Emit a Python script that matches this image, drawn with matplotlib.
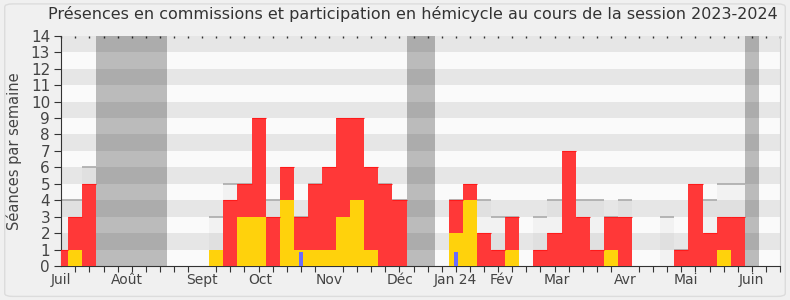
import matplotlib
matplotlib.use("Agg")
import matplotlib.pyplot as plt
from matplotlib.patches import FancyBboxPatch
import numpy as np

# ---- data (week index 0..51, July 2023 -> June 2024) ----
weeks = list(range(52))
hemicycle = [0, 1, 0, 0, 0, 0, 0, 0, 0, 0,
             0, 1, 0, 3, 3, 0, 4, 1, 1, 1,
             3, 4, 1, 0, 0, 0, 0, 0, 2, 4,
             0, 0, 1, 0, 0, 0, 0, 0, 0, 1,
             0, 0, 0, 0, 0, 0, 0, 1, 0, 0,
             0, 0]
commission = [1, 2, 5, 0, 0, 0, 0, 0, 0, 0,
              0, 0, 4, 2, 6, 3, 2, 2, 4, 5,
              6, 5, 5, 5, 4, 0, 0, 0, 2, 1,
              2, 1, 2, 0, 1, 2, 7, 3, 1, 2,
              3, 0, 0, 0, 1, 5, 2, 2, 3, 0,
              0, 0]
questions = [0] * 52
questions[17] = 0.85
questions[28] = 0.85
median = [4, 4, 6, 0, 0, 0, 0, 0, 0, 0,
          0, 3, 5, 5, 5, 4, 5, 3, 5, 5,
          5, 5, 5, 5, 4, 0, 0, 0, 4, 4,
          4, 3, 3, 0, 3, 4, 4, 4, 4, 3,
          4, 0, 0, 3, 1, 4, 4, 5, 5, 0,
          0, 0]
vac_start = [3, 25, 49]
vac_end = [7, 26, 49]
month_labels = ["Juil", "Août", "Sept", "Oct", "Nov", "Déc", "Jan 24",
                "Fév", "Mar", "Avr", "Mai", "Juin"]
month_pos = [0, 4.65, 10, 14.15, 19, 24.03, 27.93, 31.28, 35.18, 40, 44.31, 48.98]

title = "Présences en commissions et participation en hémicycle au cours de la session 2023-2024"
ylabel = "Séances par semaine"

# ---- figure ----
fig = plt.figure(figsize=(7.9, 3.0), dpi=100, facecolor="#f0f0f0")
fig.patches.append(FancyBboxPatch((0.006, 0.012), 0.988, 0.975, boxstyle="round,pad=0,rounding_size=0.01",
                                  transform=fig.transFigure, facecolor="none",
                                  edgecolor="#dcdcdc", linewidth=1.0))
ax = fig.add_axes([0.0775, 0.1133, 0.9099, 0.7677])
ax.set_facecolor("#fafafa")
ymax = 14
for y0 in range(1, ymax, 2):
    ax.axhspan(y0, y0 + 1, color="#e6e6e6", lw=0, zorder=0)

for s, e in zip(vac_start, vac_end):
    ax.axvspan(s - 0.5, e + 0.5, color="black", alpha=0.25, lw=0, zorder=1)

w = np.array(weeks)
med = np.array(median, dtype=float)
ax.bar(w, med, width=1.0, color="#808080", alpha=0.06, lw=0, zorder=2)
for xi, m in zip(w, med):
    if m > 0:
        ax.plot([xi - 0.5, xi + 0.5], [m, m], color="#aaaaaa", lw=1.2, zorder=2.5,
                solid_capstyle="butt")

hem = np.array(hemicycle, dtype=float)
com = np.array(commission, dtype=float)
ax.bar(w, hem, width=1.0, color="#ffd20c", lw=0, zorder=3)
ax.bar(w, com, width=1.0, bottom=hem, color="#ff3838", lw=0, zorder=3)
for xi, t, c in zip(w, hem + com, com):
    if c > 0:
        ax.plot([xi - 0.5, xi + 0.5], [t, t], color="#ff1a1a", lw=0.8, zorder=3.2,
                solid_capstyle="butt")
ax.bar(w, questions, width=0.33, color="#6b6bff", lw=0, zorder=4)

ax.set_xlim(0, 51)
ax.set_ylim(0, ymax)
ax.set_yticks(range(0, ymax + 1))
ax.set_xticks(month_pos, month_labels)
ax.set_xticks(weeks, minor=True)
ax.tick_params(axis="x", which="major", length=0, pad=5, labelsize=10, labelcolor="#444444")
ax.tick_params(axis="x", which="minor", length=4, width=0.8, color="#333333")
ax.tick_params(axis="y", length=5, width=0.8, color="#333333", pad=3,
               labelsize=11, labelcolor="#444444")
ax.spines["top"].set_visible(False)
ax.spines["right"].set_color("#d0d0d0")
ax.spines["left"].set_color("#333333")
ax.spines["bottom"].set_color("#333333")

sec = ax.secondary_xaxis("top")
sec.set_xticks(weeks, labels=[])
sec.tick_params(length=1.5, width=1.0, color="#333333", direction="in")
sec.spines["top"].set_visible(False)

ax.set_ylabel(ylabel, fontsize=10.5, color="#444444", labelpad=6)
fig.text(0.523, 0.955, title, ha="center", va="center", fontsize=11.5, color="#333333")

fig.savefig("out.png", dpi=100, facecolor=fig.get_facecolor())
